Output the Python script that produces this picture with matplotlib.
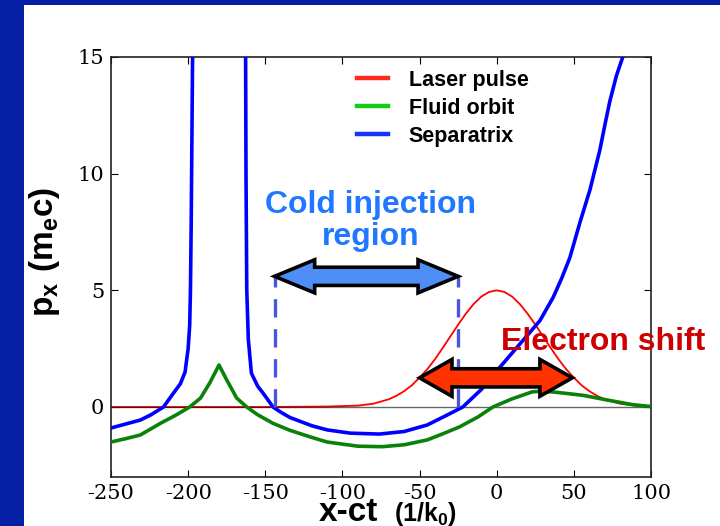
"""Laser wakefield phase space: separatrix, fluid orbit and laser pulse."""

import matplotlib

matplotlib.use("Agg")
import matplotlib.pyplot as plt
from matplotlib.lines import Line2D
from matplotlib.patches import Polygon, Rectangle

plt.rcParams["axes.unicode_minus"] = False
plt.rcParams["mathtext.fontset"] = "custom"
plt.rcParams["mathtext.rm"] = "Liberation Sans"
plt.rcParams["mathtext.bf"] = "Liberation Sans:bold"

# --- data ------------------------------------------------------------------
# separatrix, left branch (goes up to the singularity near x = -198)
sep_left_x = [-250, -240, -231, -224, -216, -210, -205, -202, -200, -199,
              -198.5, -198, -197.5, -197]
sep_left_y = [-0.9, -0.72, -0.56, -0.33, 0.0, 0.55, 1.0, 1.5, 2.5, 3.5,
              5.0, 8.0, 12.0, 16.0]

# separatrix, right branch (from the singularity near x = -163 to the right)
sep_right_x = [-162.8, -162.5, -162, -161, -159, -155, -151.5, -148, -145,
               -140, -134, -120, -110, -95, -76, -60, -45, -32, -22, -10,
               2, 15, 28, 36.6, 42, 47.4, 53.9, 60.4, 66.8, 70, 73.3, 77.6,
               81.7, 84]
sep_right_y = [16.0, 10.0, 5.0, 2.9, 1.45, 0.9, 0.6, 0.28, 0.0, -0.22,
               -0.45, -0.8, -0.98, -1.12, -1.16, -1.05, -0.77, -0.34, 0.0,
               0.75, 1.7, 2.7, 3.7, 4.7, 5.5, 6.4, 7.9, 9.3, 11.0, 12.05,
               13.1, 14.2, 15.0, 15.5]

fluid_x = [-250, -240, -231, -218, -208, -199, -192, -186, -180, -175,
           -168.5, -162, -155, -145, -134, -120, -110, -90, -74, -60, -45,
           -35, -24, -12, -2.5, 10, 23, 30, 40, 56, 70, 88, 100]
fluid_y = [-1.5, -1.35, -1.2, -0.7, -0.35, 0.0, 0.38, 1.03, 1.8, 1.16,
           0.38, 0.0, -0.33, -0.7, -1.0, -1.3, -1.5, -1.68, -1.7, -1.62,
           -1.41, -1.15, -0.85, -0.42, 0.0, 0.35, 0.65, 0.68, 0.62, 0.5,
           0.32, 0.1, 0.02]

laser_x = [-250, -150, -110, -90, -80, -70, -65, -60, -55, -50, -45, -40,
           -35, -30, -25, -20, -15, -10, -5, 0, 5, 10, 15, 20, 25, 30, 35,
           40, 45, 50, 55, 60, 65, 70, 80, 90, 100]
laser_y = [0.0, 0.0, 0.02, 0.06, 0.14, 0.33, 0.48, 0.68, 0.93, 1.26, 1.62,
           2.05, 2.53, 3.03, 3.53, 4.0, 4.41, 4.73, 4.93, 5.0, 4.93, 4.73,
           4.41, 4.0, 3.53, 3.03, 2.53, 2.05, 1.62, 1.26, 0.93, 0.68, 0.48,
           0.33, 0.14, 0.06, 0.02]

legend_labels = ["Laser pulse", "Fluid orbit", "Separatrix"]
legend_colors = ["#ff2a1a", "#14cc14", "#1433ff"]

x_ticks = [-250, -200, -150, -100, -50, 0, 50, 100]
y_ticks = [0, 5, 10, 15]

# annotation positions (data units)
cold_x0, cold_x1, cold_y = -144, -25, 5.6
shift_x0, shift_x1, shift_y = -50, 49, 1.25


def double_arrow(ax, x0, x1, y, head_len, head_half, shaft_half, color):
    """Fat two-headed arrow with a black outline, in data units."""
    pts = [
        (x0, y),
        (x0 + head_len, y + head_half),
        (x0 + head_len, y + shaft_half),
        (x1 - head_len, y + shaft_half),
        (x1 - head_len, y + head_half),
        (x1, y),
        (x1 - head_len, y - head_half),
        (x1 - head_len, y - shaft_half),
        (x0 + head_len, y - shaft_half),
        (x0 + head_len, y - head_half),
    ]
    ax.add_patch(Polygon(pts, closed=True, facecolor=color, edgecolor="black",
                         linewidth=2.6, joinstyle="miter", zorder=6))


fig = plt.figure(figsize=(7.2, 5.26), dpi=100)

# dark blue slide frame (top and left)
frame = "#0520a5"
fig.patches.append(Rectangle((0, 0), 24 / 720, 1, transform=fig.transFigure,
                             facecolor=frame, edgecolor="none", zorder=-1))
fig.patches.append(Rectangle((0, 1 - 5 / 526), 1, 5 / 526,
                             transform=fig.transFigure, facecolor=frame,
                             edgecolor="none", zorder=-1))

ax = fig.add_axes([111 / 720, 49 / 526, 540 / 720, 420 / 526])

ax.plot(laser_x, laser_y, color="#ff0000", linewidth=1.3, zorder=2)
ax.axhline(0, color="black", linewidth=1.0, alpha=0.6, zorder=2.5)
ax.plot(sep_left_x, sep_left_y, color="#0000ff", linewidth=2.6, zorder=3)
ax.plot(sep_right_x, sep_right_y, color="#0000ff", linewidth=2.6, zorder=3)
ax.plot(fluid_x, fluid_y, color="#0a820a", linewidth=2.6, zorder=3)

# dashed guides of the cold injection region
for xv in (cold_x0, cold_x1):
    ax.plot([xv, xv], [0, cold_y], color="#4a55dd", linewidth=2.4,
            dashes=(5.5, 3.5), zorder=4)

double_arrow(ax, cold_x0, cold_x1, cold_y, 26, 0.71, 0.39, "#4f8ef7")
double_arrow(ax, shift_x0, shift_x1, shift_y, 21, 0.79, 0.39, "#ff3300")

ax.text(-82, 7.98, "Cold injection\nregion", color="#1f78ff", fontsize=23,
        fontweight="bold", family="Liberation Sans", ha="center",
        va="center", linespacing=1.1, zorder=7)
ax.text(69, 2.79, "Electron shift", color="#cc0000", fontsize=23,
        fontweight="bold", family="Liberation Sans", ha="center",
        va="center", clip_on=False, zorder=7)

ax.set_xlim(-250, 100)
ax.set_ylim(-3, 15)
ax.set_xticks(x_ticks)
ax.set_yticks(y_ticks)
ax.tick_params(direction="in", top=True, right=True, length=5, width=0.8,
               labelsize=15, pad=5)
for lab in ax.get_xticklabels() + ax.get_yticklabels():
    lab.set_family("DejaVu Serif")
for sp in ax.spines.values():
    sp.set_linewidth(1.2)
    sp.set_color("#222222")

ax.set_ylabel(r"$\mathbf{p_x\ (m_ec)}$", fontsize=24)
ax.yaxis.set_label_coords(-0.09, 0.535)

# x label: big "x-ct" and a smaller unit, placed in pixels from bottom-left
ax.text(378, 5, "x-ct", transform=None, fontsize=24, fontweight="bold",
        family="Liberation Sans", ha="right", va="baseline")
ax.text(394, 5, r"$\mathbf{(1/k_0)}$", transform=None, fontsize=18,
        ha="left", va="baseline")

handles = [Line2D([], [], color=c, linewidth=3.2) for c in legend_colors]
ax.legend(handles, legend_labels, loc="upper left",
          bbox_to_anchor=(0.456, 0.97), frameon=False, borderpad=0,
          borderaxespad=0, handlelength=1.45, handletextpad=0.95,
          labelspacing=0.33, prop={"family": "Liberation Sans",
                                   "weight": "bold", "size": 15.5})

fig.savefig("out.png", dpi=100)
